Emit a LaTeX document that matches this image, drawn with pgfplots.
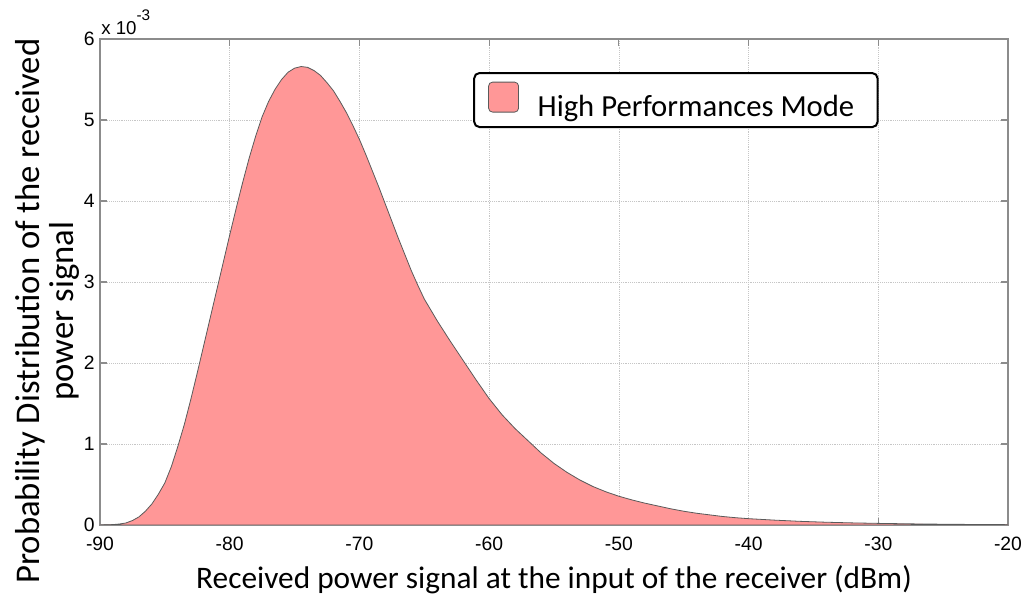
\documentclass[border=0pt]{standalone}
\usepackage{pgfplots}
\pgfplotsset{compat=1.18}
\usepackage{fontspec}
\setmainfont{Carlito}
\newfontfamily\arialfont{Liberation Sans}
\definecolor{fillpink}{HTML}{FF9797}
\definecolor{edgegray}{HTML}{5A5A5A}
\definecolor{axgray}{HTML}{8C8C8C}

\pgfplotstableread{
x y
-90 0
-89.5 0.002
-89 0.005
-88.5 0.012
-88 0.025
-87.5 0.055
-87 0.10
-86.5 0.17
-86 0.26
-85.5 0.38
-85 0.52
-84.5 0.72
-84 0.97
-83.5 1.24
-83 1.55
-82.5 1.88
-82 2.22
-81.5 2.56
-81 2.90
-80.5 3.24
-80 3.58
-79.5 3.91
-79 4.23
-78.5 4.53
-78 4.80
-77.5 5.04
-77 5.23
-76.5 5.38
-76 5.50
-75.5 5.59
-75 5.64
-74.5 5.66
-74 5.65
-73.5 5.61
-73 5.55
-72.5 5.46
-72 5.36
-71.5 5.23
-71 5.09
-70.5 4.93
-70 4.76
-69.5 4.57
-69 4.37
-68.5 4.17
-68 3.96
-67.5 3.75
-67 3.54
-66.5 3.34
-66 3.14
-65.5 2.96
-65 2.79
-64 2.52
-63 2.27
-62 2.03
-61 1.79
-60 1.56
-59 1.36
-58 1.19
-57 1.04
-56 0.89
-55 0.76
-54 0.65
-53 0.555
-52 0.475
-51 0.41
-50 0.355
-49 0.31
-48 0.27
-47 0.235
-46 0.20
-45 0.17
-44 0.145
-43 0.125
-42 0.105
-41 0.09
-40 0.078
-38 0.06
-36 0.045
-34 0.034
-32 0.026
-30 0.02
-27 0.013
-24 0.008
-20 0.004
}\pdfdata

\begin{document}
\begin{tikzpicture}[x=1pt,y=1pt]
\useasboundingbox (-75,-54.75) rectangle (693,393.75);
\begin{axis}[
  name=ax,
  at={(0,0)}, anchor=south west,
  scale only axis, width=681pt, height=364.5pt,
  xmin=-90, xmax=-20, ymin=0, ymax=6,
  xtick={-90,-80,...,-20}, ytick={0,1,...,6},
  grid=major,
  major grid style={densely dotted, color=gray!45, line width=0.5pt},
  axis line style={axgray, line width=0.8pt},
  tick style={axgray, line width=0.8pt},
  major tick length=5pt,
  tick align=inside,
  scaled ticks=false,
  /pgf/number format/assume math mode=true,
  tick label style={font=\arialfont\fontsize{14.5}{16}\selectfont, black},
  xticklabel style={yshift=-5.5pt},
  yticklabel style={xshift=-0.5pt},
  xlabel={Received power signal at the input of the receiver (dBm)},
  xlabel style={at={(axis description cs:0.5,0)}, anchor=center, yshift=-41pt, font=\fontsize{23.5}{27}\selectfont},
  ylabel={Probability Distribution of the received\\power signal},
  ylabel style={at={(axis description cs:-0.058,0.44)}, anchor=center, align=center, font=\fontsize{26}{26}\selectfont},
  legend style={at={(axis description cs:0.411,0.932)}, anchor=north west, draw=black, line width=1.5pt, rounded corners=4pt, font=\fontsize{23}{27}\selectfont, inner xsep=10.5pt, inner ysep=6.5pt, column sep=14pt, nodes={inner sep=0pt}},
  legend cell align=left,
  legend image code/.code={\draw[#1, line width=0.6pt, rounded corners=3pt] (0pt,-4pt) rectangle (22.5pt,18.5pt);},
]
\addplot[fill=fillpink, draw=edgegray, line width=0.6pt] table[x=x,y=y] {\pdfdata} \closedcycle;
\addlegendentry{High Performances Mode\hspace*{7pt}}
\end{axis}
\node[anchor=base west, inner sep=0pt, font=\arialfont\fontsize{14}{16}\selectfont] at ([shift={(0.8pt,3pt)}]ax.north west) {x 10\raisebox{10.5pt}{\fontsize{11.5}{12}\selectfont -3}};
\end{tikzpicture}
\end{document}
